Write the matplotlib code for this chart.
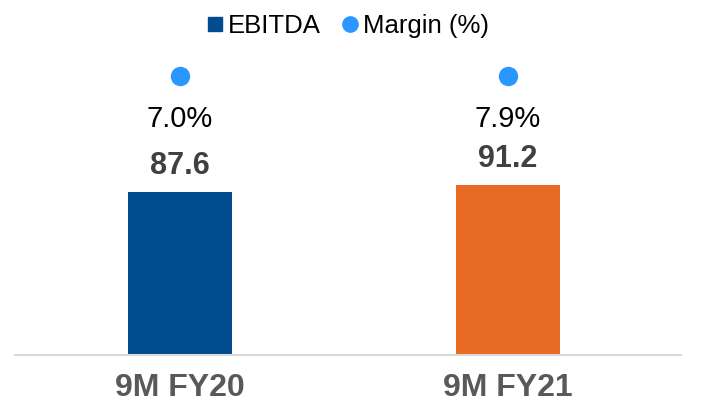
import matplotlib.pyplot as plt
from matplotlib.lines import Line2D

plt.rcParams['font.family'] = ['Liberation Sans', 'DejaVu Sans']

categories = ['9M FY20', '9M FY21']
ebitda = [87.6, 91.2]
margin = [7.0, 7.9]
bar_colors = ['#004c8f', '#e96a25']
dot_color = '#2997ff'

fig = plt.figure(figsize=(7.18, 4.09), dpi=100)
# axes spans x 15..681 px, y baseline at 355 px from top
ax = fig.add_axes([15 / 718, (409 - 355) / 409, 666 / 718, 355 / 409])
x = list(range(len(categories)))
ax.bar(x, ebitda, width=0.317, color=bar_colors, zorder=2)
ax.set_xlim(-0.503, 1.527)
ax.set_ylim(0, 355 / 1.86)

for xi, v in zip(x, ebitda):
    ax.annotate(f'{v:.1f}', (xi, v), xytext=(0, 13), textcoords='offset points',
                ha='center', va='baseline', fontsize=22, fontweight='bold',
                color='#404040')

for s in ['top', 'right', 'left']:
    ax.spines[s].set_visible(False)
ax.spines['bottom'].set_color('#d9d9d9')
ax.spines['bottom'].set_linewidth(1.5)
ax.set_yticks([])
ax.set_xticks(x)
ax.set_xticklabels(categories, fontsize=23, fontweight='bold', color='#595959')
ax.tick_params(axis='x', length=0, pad=13)

# margin dots on a wide secondary scale so both sit near the top
ax2 = ax.twinx()
mid = sum(margin) / len(margin)
span = 1000
lo = mid - (355 - 76) / 355 * span
ax2.set_ylim(lo, lo + span)
ax2.scatter(x, margin, s=18 ** 2 * 0.5184, color=dot_color, zorder=3)
ax2.axis('off')
for xi, m in zip(x, margin):
    ax2.annotate(f'{m:.1f}%', (xi, m), xytext=(0, -36.5), textcoords='offset points',
                 ha='center', va='baseline', fontsize=21, color='black')

handles = [
    Line2D([], [], linestyle='none', marker='s', markersize=10,
           color=bar_colors[0], label='EBITDA'),
    Line2D([], [], linestyle='none', marker='o', markersize=11,
           color=dot_color, label='Margin (%)'),
]
fig.legend(handles=handles, loc='center', bbox_to_anchor=(347.5 / 718, 1 - 26 / 409),
           ncol=2, frameon=False, fontsize=18.5, handlelength=0.7,
           handletextpad=0.15, columnspacing=0.8, borderaxespad=0)

fig.savefig('out.png', dpi=100)
